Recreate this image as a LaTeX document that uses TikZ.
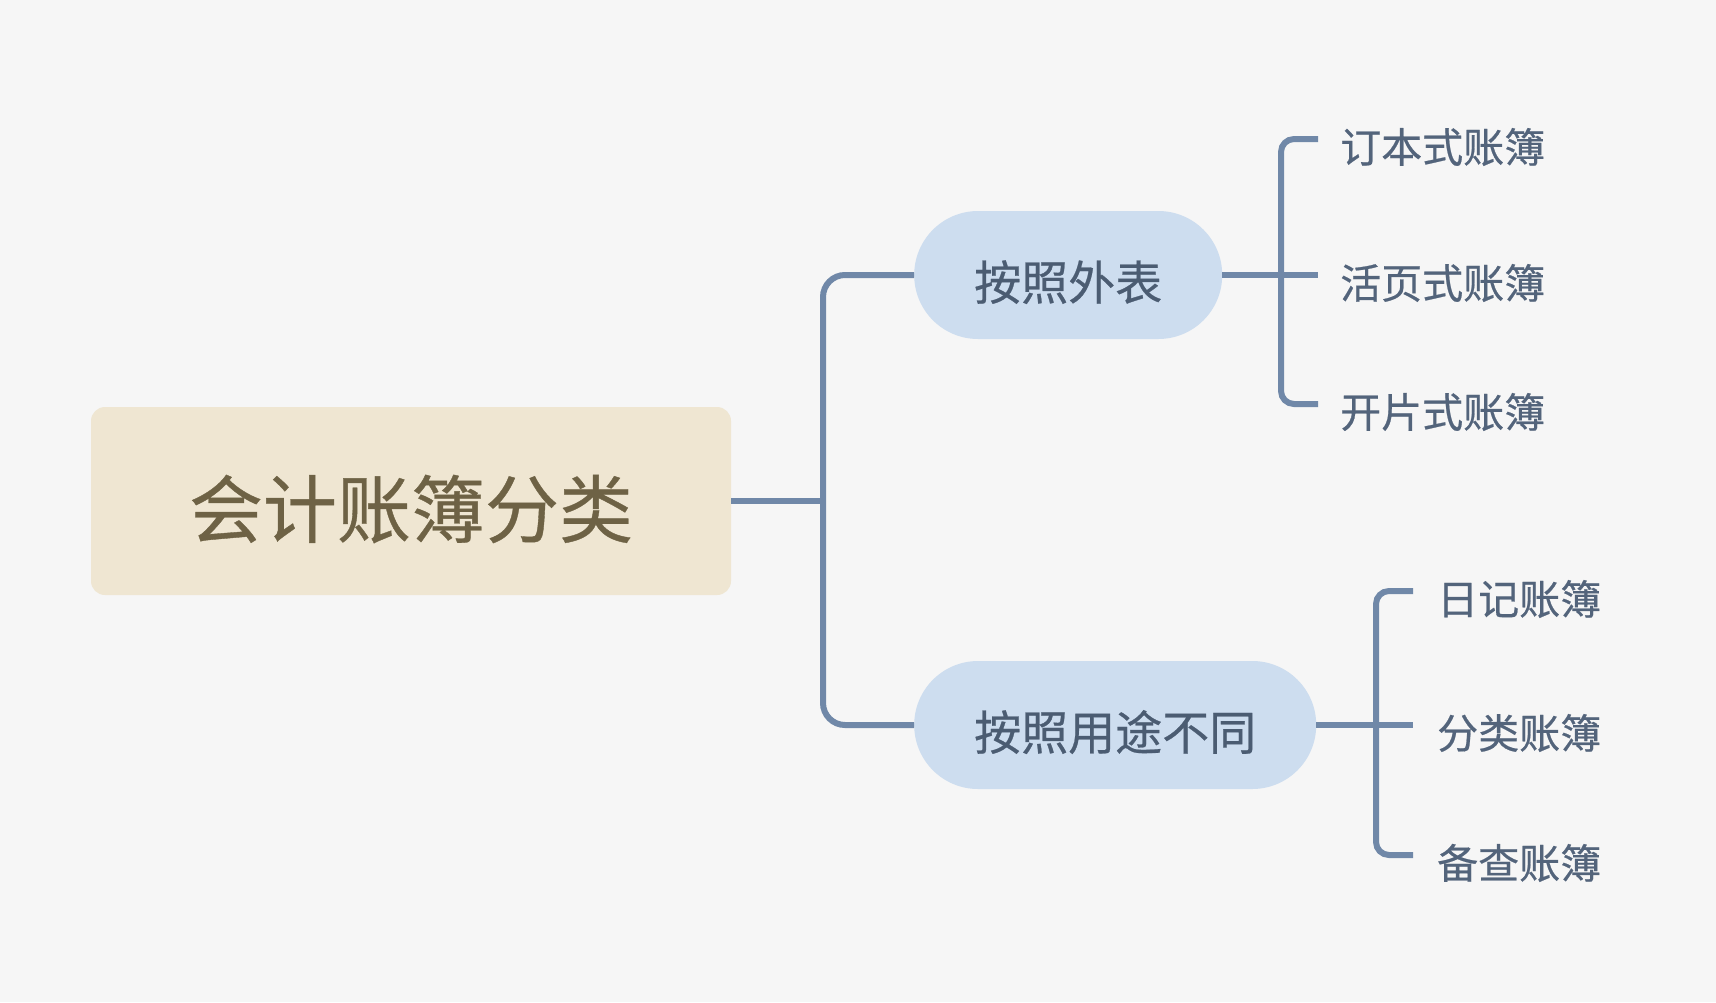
\documentclass[tikz,border=0pt]{standalone}
\usepackage{fontspec}
\setmainfont[FakeBold=0.5]{Noto Sans CJK SC}
\usepackage{xcolor}
\usetikzlibrary{positioning,calc}

\definecolor{bgGray}{HTML}{F6F6F6}
\definecolor{rootFill}{HTML}{EFE6D2}
\definecolor{rootText}{HTML}{6E6245}
\definecolor{branchFill}{HTML}{CDDDEF}
\definecolor{branchText}{HTML}{4B5C72}
\definecolor{leafText}{HTML}{53647B}
\definecolor{lineBlue}{HTML}{7088A8}

\begin{document}
\begin{tikzpicture}[x=1pt, y=-1pt,
    link/.style={draw=lineBlue, line width=6pt},
    rootbox/.style={fill=rootFill, text=rootText, rounded corners=14pt,
        minimum width=640pt, minimum height=188pt,
        font=\fontsize{74pt}{80pt}\selectfont, text height=81pt, text depth=9pt},
    branchbox/.style={fill=branchFill, text=branchText, rounded corners=63.9pt,
        minimum height=128pt, inner xsep=60pt, anchor=west,
        font=\fontsize{47pt}{52pt}\selectfont, text height=56pt, text depth=6pt},
    leaf/.style={text=leafText, anchor=west, inner ysep=0pt,
        font=\fontsize{41pt}{46pt}\selectfont, text height=52pt, text depth=5pt}]

% Background
\fill[bgGray] (0,0) rectangle (1716,1002);

% Root and branches
\node[rootbox] (root) at (411,501) {会计账簿分类};
\node[branchbox] (outer) at (914,275) {按照外表};
\node[branchbox] (usage) at (914,725) {按照用途不同};

% Leaves
\foreach \name/\txt/\y in {l1/订本式账簿/139, l2/活页式账簿/275, l3/开片式账簿/404}
    \node[leaf, inner xsep=22pt] (\name) at (1318,\y) {\txt};
\foreach \name/\txt/\y in {l4/日记账簿/591, l5/分类账簿/725, l6/备查账簿/855}
    \node[leaf, inner xsep=24pt] (\name) at (1413,\y) {\txt};

% Trunk
\coordinate (split) at (823,501);
\draw[link] (root.east) -- (split);
\draw[link, rounded corners=22pt] (outer.west) -| (split) |- (usage.west);

% Fork A
\coordinate (forkA) at (1281,275);
\draw[link] (outer.east) -- (l2.west);
\draw[link, rounded corners=13pt] (l1.west) -| (forkA) |- (l3.west);

% Fork B
\coordinate (forkB) at (1376,725);
\draw[link] (usage.east) -- (l5.west);
\draw[link, rounded corners=13pt] (l4.west) -| (forkB) |- (l6.west);
\end{tikzpicture}
\end{document}
